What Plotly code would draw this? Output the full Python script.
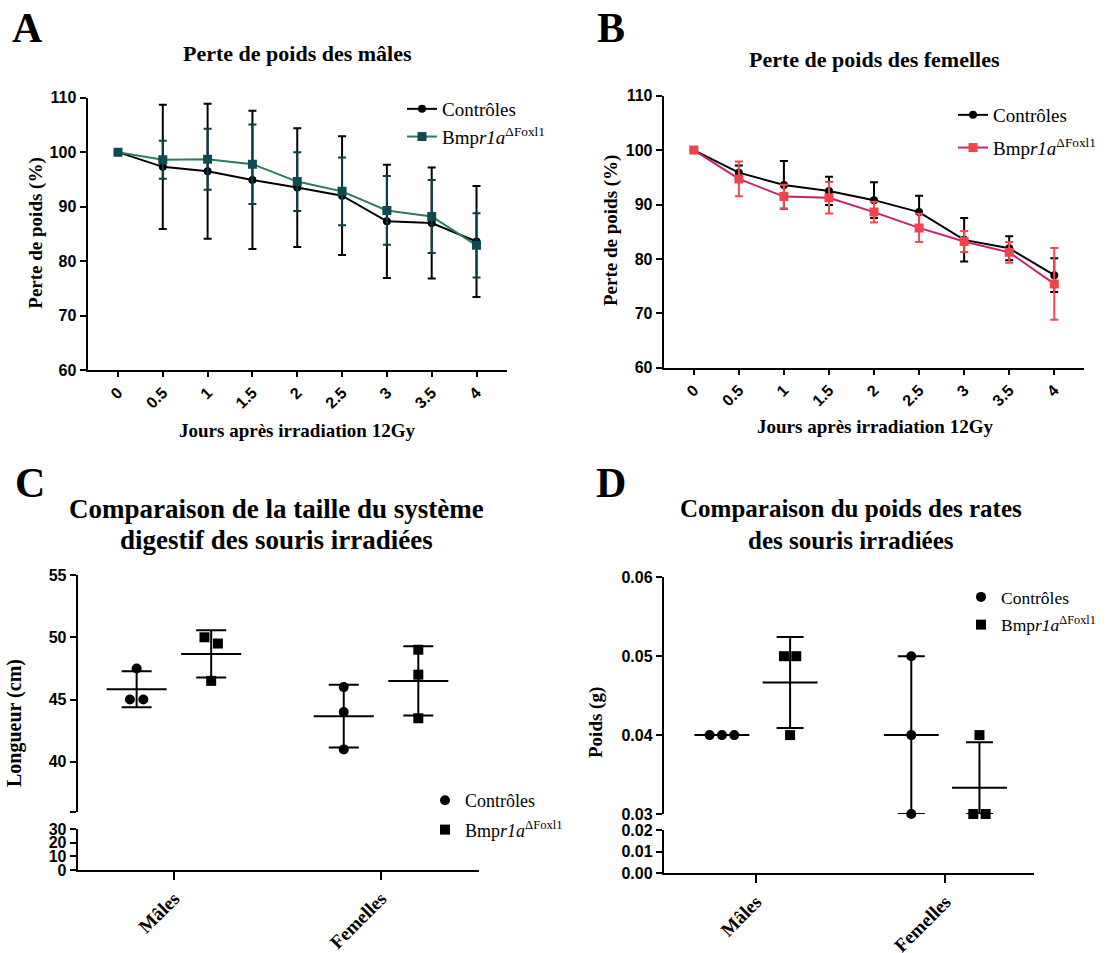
import numpy as np
import plotly.graph_objects as go

# ---------------- data ----------------
days = [0, 0.5, 1, 1.5, 2, 2.5, 3, 3.5, 4]
day_labels = ["0", "0.5", "1", "1.5", "2", "2.5", "3", "3.5", "4"]

males_ctrl_mean = [100, 97.3, 96.5, 94.9, 93.5, 92.0, 87.3, 87.0, 83.6]
males_ctrl_sd = [0, 11.4, 12.4, 12.7, 10.9, 10.9, 10.4, 10.2, 10.2]
males_mut_mean = [100, 98.6, 98.7, 97.8, 94.6, 92.8, 89.3, 88.2, 82.9]
males_mut_sd = [0, 3.5, 5.6, 7.3, 5.4, 6.2, 6.3, 6.7, 5.9]

fem_ctrl_mean = [100, 95.85, 93.6, 92.5, 90.8, 88.6, 83.5, 81.95, 77.0]
fem_ctrl_sd = [0, 1.3, 4.4, 2.6, 3.3, 3.0, 4.0, 2.2, 3.1]
fem_mut_mean = [100, 94.7, 91.45, 91.25, 88.6, 85.7, 83.2, 81.2, 75.4]
fem_mut_sd = [0, 3.2, 2.2, 2.9, 1.9, 2.6, 1.95, 1.9, 6.6]

groups = ["Mâles", "Femelles"]
# Panel C : longueur du système digestif (cm)
len_ctrl = [[47.5, 45, 45], [46, 44, 41]]
len_mut = [[50, 49.5, 46.5], [49, 47, 43.5]]
# Panel D : poids des rates (g)
spleen_ctrl = [[0.04, 0.04, 0.04], [0.05, 0.04, 0.03]]
spleen_mut = [[0.05, 0.05, 0.04], [0.04, 0.03, 0.03]]

C_up_ticks = [36, 40, 45, 50, 55]
C_up_labels = [" ", "40", "45", "50", "55"]
C_low_ticks = [0, 10, 20, 30]
D_up_ticks = [0.03, 0.04, 0.05, 0.06]
D_up_labels = ["0.03", "0.04", "0.05", "0.06"]
D_low_ticks = [0, 0.01, 0.02]
D_low_labels = ["0.00", "0.01", "0.02"]

CTRL_NAME = "Contrôles"
MUT_NAME = "Bmp<i>r1a</i><sup>ΔFoxl1</sup>"

# ---------------- layout helpers ----------------
W, H = 1115, 953


def xd(a, b):
    return [a / W, b / W]


def yd(top, bottom):
    return [1 - bottom / H, 1 - top / H]


SERIF = "Liberation Serif"
SANS = "Liberation Sans"
tickfont = dict(family=SANS, size=16, color="black", weight="bold")
catfont = dict(family=SERIF, size=19, color="black", weight="bold")

TEAL_LINE = "#2b7d5c"
TEAL_MARK = "#0e4a52"
TEAL_ERR = "#0d3c45"
RED_MARK = "#f2434b"
RED_LINE = "#c8206e"
RED_ERR = "#f04a52"

fig = go.Figure()

# ---------------- Panel A ----------------
fig.add_trace(go.Scatter(
    x=days, y=males_ctrl_mean, mode="lines+markers", name=CTRL_NAME,
    line=dict(color="black", width=2),
    marker=dict(symbol="circle", size=8, color="black"),
    error_y=dict(type="data", array=males_ctrl_sd, color="black", thickness=2, width=4),
    xaxis="x", yaxis="y", legend="legend", legendgroup="a1"))
fig.add_trace(go.Scatter(
    x=days, y=males_mut_mean, mode="lines+markers", name=MUT_NAME,
    line=dict(color=TEAL_LINE, width=2),
    marker=dict(symbol="square", size=9, color=TEAL_MARK),
    error_y=dict(type="data", array=males_mut_sd, color=TEAL_ERR, thickness=2, width=4),
    xaxis="x", yaxis="y", legend="legend", legendgroup="a2"))

# ---------------- Panel B ----------------
fig.add_trace(go.Scatter(
    x=days, y=fem_ctrl_mean, mode="lines+markers", name=CTRL_NAME,
    line=dict(color="black", width=2),
    marker=dict(symbol="circle", size=8, color="black"),
    error_y=dict(type="data", array=fem_ctrl_sd, color="black", thickness=2, width=4),
    xaxis="x2", yaxis="y2", legend="legend2", legendgroup="b1"))
fig.add_trace(go.Scatter(
    x=days, y=fem_mut_mean, mode="lines+markers", name=MUT_NAME,
    line=dict(color=RED_LINE, width=2),
    marker=dict(symbol="square", size=9, color=RED_MARK),
    error_y=dict(type="data", array=fem_mut_sd, color=RED_ERR, thickness=2, width=4),
    xaxis="x2", yaxis="y2", legend="legend2", legendgroup="b2"))

# empty traces so that the lower (broken) axis segments exist
fig.add_trace(go.Scatter(x=[None], y=[None], xaxis="x3", yaxis="y3",
                         showlegend=False, hoverinfo="skip"))
fig.add_trace(go.Scatter(x=[None], y=[None], xaxis="x4", yaxis="y4",
                         showlegend=False, hoverinfo="skip"))


# ---------------- Panels C / D (scatter dot plots) ----------------
def spread(vals, tol):
    order = sorted(range(len(vals)), key=lambda i: -vals[i])
    clusters = []
    for i in order:
        if clusters and abs(vals[clusters[-1][-1]] - vals[i]) <= tol:
            clusters[-1].append(i)
        else:
            clusters.append([i])
    offs = [0.0] * len(vals)
    for c in clusters:
        n = len(c)
        for k, i in enumerate(c):
            offs[i] = k - (n - 1) / 2
    return offs


def dot_panel(data_ctrl, data_mut, xa, ya, leg, tol, low, cap, tag):
    shift = 0.18
    step = 0.065
    half = 0.145
    for data, sym, name, sgn, k in [(data_ctrl, "circle", CTRL_NAME, -1, "1"),
                                    (data_mut, "square", MUT_NAME, 1, "2")]:
        xs, ys = [], []
        mx, my = [], []
        ex, ey, esd, esdm = [], [], [], []
        for gi, vals in enumerate(data):
            c = gi + sgn * shift
            offs = spread(vals, tol)
            for v, o in zip(vals, offs):
                xs.append(c + o * step)
                ys.append(v)
            m = float(np.mean(vals))
            sd = float(np.std(vals, ddof=1))
            mx += [c - half, c + half, None]
            my += [m, m, None]
            ex.append(c)
            ey.append(m)
            esd.append(sd)
            esdm.append(min(sd, m - low))
        fig.add_trace(go.Scatter(
            x=ex, y=ey, mode="markers", showlegend=False, hoverinfo="skip",
            marker=dict(size=1, color="rgba(0,0,0,0)"),
            error_y=dict(type="data", symmetric=False, array=esd, arrayminus=esdm,
                         color="black", thickness=2, width=cap),
            xaxis=xa, yaxis=ya))
        fig.add_trace(go.Scatter(
            x=mx, y=my, mode="lines", showlegend=False, hoverinfo="skip",
            line=dict(color="black", width=2), xaxis=xa, yaxis=ya))
        fig.add_trace(go.Scatter(
            x=xs, y=ys, mode="markers", name=name, cliponaxis=False,
            marker=dict(symbol=sym, size=10, color="black"),
            xaxis=xa, yaxis=ya, legend=leg, legendgroup=tag + k))


dot_panel(len_ctrl, len_mut, "x3", "y5", "legend3", 0.8, 36, 15, "c")
dot_panel(spleen_ctrl, spleen_mut, "x4", "y6", "legend4", 0.001, 0.03, 13.5, "d")

# ---------------- axes ----------------
axis_common = dict(showline=True, linecolor="black", linewidth=2, ticks="outside",
                   tickcolor="black", tickwidth=2, showgrid=False, zeroline=False,
                   mirror=False, automargin=False)

fig.update_layout(
    width=W, height=H, margin=dict(l=0, r=0, t=0, b=0, autoexpand=False),
    paper_bgcolor="white", plot_bgcolor="white",
    font=dict(family=SERIF, color="black"),
    xaxis=dict(domain=xd(87.5, 507), range=[-0.34, 4.34], anchor="y",
               tickvals=days, ticktext=day_labels, tickangle=-45, ticklen=5,
               tickfont=tickfont, **axis_common),
    yaxis=dict(domain=yd(97.7, 370), range=[60, 110], anchor="x",
               tickvals=[60, 70, 80, 90, 100, 110], ticklen=6,
               tickfont=tickfont, **axis_common),
    xaxis2=dict(domain=xd(663.7, 1084), range=[-0.334, 4.33], anchor="y2",
                tickvals=days, ticktext=day_labels, tickangle=-45, ticklen=5,
                tickfont=tickfont, **axis_common),
    yaxis2=dict(domain=yd(95.7, 367.7), range=[60, 110], anchor="x2",
                tickvals=[60, 70, 80, 90, 100, 110], ticklen=6,
                tickfont=tickfont, **axis_common),
    xaxis3=dict(domain=xd(77.7, 479), range=[-0.4645, 1.473], anchor="y3",
                tickvals=[0, 1], ticktext=groups, tickangle=-45, ticklen=8,
                tickfont=catfont, **axis_common),
    yaxis3=dict(domain=yd(829.3, 870), range=[0, 30], anchor="x3",
                tickvals=C_low_ticks, ticklen=6, tickfont=tickfont, **axis_common),
    yaxis5=dict(domain=yd(575, 811.7), range=[36, 55], anchor="x3",
                tickvals=C_up_ticks, ticktext=C_up_labels, ticklen=6,
                tickfont=tickfont, **axis_common),
    xaxis4=dict(domain=xd(663.8, 1034), range=[-0.487, 1.468], anchor="y4",
                tickvals=[0, 1], ticktext=groups, tickangle=-45, ticklen=8,
                tickfont=catfont, **axis_common),
    yaxis4=dict(domain=yd(830, 873.3), range=[0, 0.02], anchor="x4",
                tickvals=D_low_ticks, ticktext=D_low_labels, ticklen=6,
                tickfont=tickfont, **axis_common),
    yaxis6=dict(domain=yd(577.3, 814), range=[0.03, 0.06], anchor="x4",
                tickvals=D_up_ticks, ticktext=D_up_labels, ticklen=6,
                tickfont=tickfont, **axis_common),
    legend=dict(x=402 / W, y=1 - 90 / H, xanchor="left", yanchor="top",
                bgcolor="rgba(0,0,0,0)", font=dict(family=SERIF, size=19),
                itemwidth=30, tracegroupgap=0),
    legend2=dict(x=953 / W, y=1 - 96 / H, xanchor="left", yanchor="top",
                 bgcolor="rgba(0,0,0,0)", font=dict(family=SERIF, size=19),
                 itemwidth=30, tracegroupgap=5),
    legend3=dict(x=425 / W, y=1 - 782 / H, xanchor="left", yanchor="top",
                 bgcolor="rgba(0,0,0,0)", font=dict(family=SERIF, size=18),
                 itemwidth=30, tracegroupgap=3),
    legend4=dict(x=961 / W, y=1 - 579 / H, xanchor="left", yanchor="top",
                 bgcolor="rgba(0,0,0,0)", font=dict(family=SERIF, size=17.5),
                 itemwidth=30, tracegroupgap=2),
)


def ann(text, x, y, size, angle=0, xanchor="center", bold=True):
    fig.add_annotation(text=text, x=x / W, y=1 - y / H, xref="paper", yref="paper",
                       showarrow=False, xanchor=xanchor, yanchor="middle",
                       textangle=angle,
                       font=dict(family=SERIF, size=size, color="black",
                                 weight="bold" if bold else "normal"))


# panel letters
ann("A", 10, 28, 42, xanchor="left")
ann("B", 595, 28, 42, xanchor="left")
ann("C", 13, 483, 42, xanchor="left")
ann("D", 594, 483, 42, xanchor="left")
# titles
ann("Perte de poids des mâles", 297.7, 54, 22)
ann("Perte de poids des femelles", 874.5, 60, 22)
ann("Comparaison de la taille du système", 276, 509, 27)
ann("digestif des souris irradiées", 276, 540, 27)
ann("Comparaison du poids des rates", 850.7, 509, 25)
ann("des souris irradiées", 850.7, 540, 25)
# axis titles
ann("Jours après irradiation 12Gy", 297.3, 430, 19)
ann("Jours après irradiation 12Gy", 875, 426.7, 19)
ann("Perte de poids (%)", 35.7, 233, 19, angle=-90)
ann("Perte de poids (%)", 611, 231, 19, angle=-90)
ann("Longueur (cm)", 14, 723, 20, angle=-90)
ann("Poids (g)", 596, 723, 19, angle=-90)

fig.write_html("out.html", config={"displayModeBar": False},
               post_script="document.body.style.margin='0';")
